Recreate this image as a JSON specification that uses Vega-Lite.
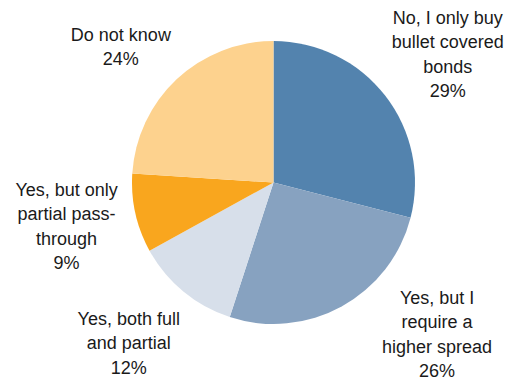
{
  "$schema": "https://vega.github.io/schema/vega-lite/v6.json",
  "width": 483,
  "height": 365,
  "autosize": "none",
  "padding": {"left": 32, "top": 0, "right": 0, "bottom": 15},
  "background": "white",
  "view": {"stroke": null},
  "data": {
    "values": [
      {"rank": 1, "cat": "No, I only buy bullet covered bonds", "value": 29, "label": "No, I only buy\nbullet covered\nbonds\n29%"},
      {"rank": 2, "cat": "Yes, but I require a higher spread", "value": 26, "label": "Yes, but I\nrequire a\nhigher spread\n26%"},
      {"rank": 3, "cat": "Yes, both full and partial", "value": 12, "label": "Yes, both full\nand partial\n12%"},
      {"rank": 4, "cat": "Yes, but only partial pass-through", "value": 9, "label": "Yes, but only\npartial pass-\nthrough\n9%"},
      {"rank": 5, "cat": "Do not know", "value": 24, "label": "Do not know\n24%"}
    ]
  },
  "encoding": {
    "theta": {"field": "value", "type": "quantitative", "stack": true},
    "order": {"field": "rank", "type": "quantitative"}
  },
  "layer": [
    {
      "mark": {"type": "arc", "outerRadius": 141.5, "stroke": null},
      "encoding": {
        "color": {
          "field": "cat",
          "type": "nominal",
          "scale": {
            "domain": ["No, I only buy bullet covered bonds", "Yes, but I require a higher spread", "Yes, both full and partial", "Yes, but only partial pass-through", "Do not know"],
            "range": ["#5383AE", "#87A2C0", "#D7DFEA", "#F9A61E", "#FDD28E"]
          },
          "legend": null
        }
      }
    },
    {
      "mark": {"type": "text", "radius": 218, "dx": 2, "dy": -30, "font": "Liberation Sans", "fontSize": 18, "lineHeight": 24.5, "lineBreak": "\n", "align": "center", "baseline": "middle", "color": "#1a1a1a"},
      "encoding": {"text": {"condition": {"test": "datum.rank === 1", "field": "label"}, "value": ""}}
    },
    {
      "mark": {"type": "text", "radius": 215, "dx": 60, "dy": -72, "font": "Liberation Sans", "fontSize": 18, "lineHeight": 24.5, "lineBreak": "\n", "align": "center", "baseline": "middle", "color": "#1a1a1a"},
      "encoding": {"text": {"condition": {"test": "datum.rank === 2", "field": "label"}, "value": ""}}
    },
    {
      "mark": {"type": "text", "radius": 216, "dx": -7, "dy": -29, "font": "Liberation Sans", "fontSize": 18, "lineHeight": 24.5, "lineBreak": "\n", "align": "center", "baseline": "middle", "color": "#1a1a1a"},
      "encoding": {"text": {"condition": {"test": "datum.rank === 3", "field": "label"}, "value": ""}}
    },
    {
      "mark": {"type": "text", "radius": 211, "dx": -1, "dy": -38, "font": "Liberation Sans", "fontSize": 18, "lineHeight": 24.5, "lineBreak": "\n", "align": "center", "baseline": "middle", "color": "#1a1a1a"},
      "encoding": {"text": {"condition": {"test": "datum.rank === 4", "field": "label"}, "value": ""}}
    },
    {
      "mark": {"type": "text", "radius": 204, "dx": -13, "dy": 2, "font": "Liberation Sans", "fontSize": 18, "lineHeight": 24.5, "lineBreak": "\n", "align": "center", "baseline": "middle", "color": "#1a1a1a"},
      "encoding": {"text": {"condition": {"test": "datum.rank === 5", "field": "label"}, "value": ""}}
    }
  ]
}
